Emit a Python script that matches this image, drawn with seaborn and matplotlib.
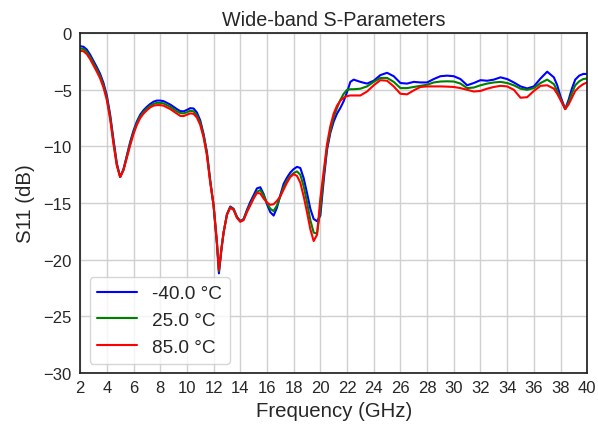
import matplotlib
matplotlib.use("Agg")
import matplotlib.pyplot as plt
import seaborn as sns
import pandas as pd

# Frequency sample points (GHz)
freq_ghz = [
    2.0, 2.25, 2.5, 2.75, 3.0, 3.25, 3.5, 3.75, 4.0, 4.25, 4.5, 4.75,
    5.0, 5.25, 5.5, 5.75, 6.0, 6.25, 6.5, 6.75, 7.0, 7.25, 7.5, 7.75,
    8.0, 8.25, 8.5, 8.75, 9.0, 9.25, 9.5, 9.75, 10.0, 10.25, 10.5, 10.75,
    11.0, 11.25, 11.5, 11.75, 12.0, 12.25,
    12.4, 12.6, 12.75,
    13.0, 13.25, 13.5, 13.75, 14.0, 14.25, 14.5, 14.75, 15.0, 15.25, 15.5, 15.75,
    16.0, 16.25, 16.5, 16.75, 17.0, 17.25, 17.5, 17.75, 18.0, 18.25, 18.5, 18.75,
    19.0, 19.25, 19.5, 19.75, 20.0, 20.25, 20.5, 20.75, 21.0, 21.25, 21.5, 21.75,
    22.0, 22.25, 22.5,
    23.0, 23.5, 24.0, 24.5, 25.0, 25.5, 26.0, 26.5, 27.0, 27.5, 28.0, 28.5,
    29.0, 29.5, 30.0, 30.5, 31.0, 31.5, 32.0, 32.5, 33.0, 33.5, 34.0, 34.5,
    35.0, 35.5, 36.0, 36.5, 37.0, 37.5,
    37.75, 38.0, 38.35, 38.6, 38.85, 39.1, 39.4, 39.7, 40.0,
]

# S11 (dB) at -40 °C
s11_m40 = [
    -1.15, -1.2, -1.45, -1.9, -2.45, -3.0, -3.6, -4.4, -5.5, -7.2, -9.4, -11.5,
    -12.7, -12.0, -10.8, -9.6, -8.6, -7.8, -7.2, -6.8, -6.5, -6.25, -6.05, -5.95,
    -5.95, -6.0, -6.15, -6.3, -6.5, -6.7, -6.88, -6.9, -6.78, -6.62, -6.65, -7.0,
    -7.7, -8.9, -10.5, -13.0, -15.2, -18.6,
    -21.2, -19.0, -17.6,
    -16.0, -15.3, -15.5, -16.2, -16.6, -16.4, -15.6, -14.9, -14.3, -13.7, -13.6, -14.2,
    -15.1, -15.8, -16.1, -15.4, -14.3, -13.3, -12.75, -12.3, -12.0, -11.8, -11.9, -12.8,
    -14.1, -15.5, -16.4, -16.6, -16.1, -13.0, -10.3, -8.8, -7.8, -7.1, -6.6, -6.0,
    -5.2, -4.3, -4.1,
    -4.3, -4.45, -4.2, -3.7, -3.5, -3.8, -4.4, -4.45, -4.3, -4.35, -4.35, -4.05,
    -3.8, -3.75, -3.8, -4.05, -4.6, -4.4, -4.15, -4.2, -4.1, -3.9, -4.05, -4.35,
    -4.7, -4.88, -4.7, -4.0, -3.4, -3.9,
    -4.6, -5.6, -6.7, -5.9, -4.9, -4.1, -3.75, -3.6, -3.6,
]

# S11 (dB) at 25 °C
s11_25 = [
    -1.35, -1.4, -1.65, -2.1, -2.65, -3.2, -3.8, -4.6, -5.7, -7.4, -9.6, -11.6,
    -12.7, -12.05, -10.9, -9.75, -8.75, -7.95, -7.35, -6.95, -6.65, -6.4, -6.25, -6.15,
    -6.15, -6.2, -6.35, -6.5, -6.7, -6.9, -7.05, -7.08, -6.98, -6.85, -6.9, -7.25,
    -7.9, -9.0, -10.6, -13.1, -15.2, -18.5,
    -21.0, -18.9, -17.6,
    -16.0, -15.35, -15.55, -16.25, -16.6, -16.45, -15.7, -15.1, -14.5, -14.0, -13.85, -14.3,
    -15.0, -15.5, -15.7, -15.2, -14.4, -13.6, -13.0, -12.6, -12.35, -12.2, -12.5, -13.5,
    -14.9, -16.5, -17.6, -17.7, -15.6, -12.6, -10.1, -8.6, -7.4, -6.6, -5.9, -5.35,
    -5.0, -4.95, -4.95,
    -4.9, -4.7, -4.3, -3.95, -3.95, -4.3, -4.85, -4.85, -4.75, -4.65, -4.55, -4.35,
    -4.27, -4.25, -4.27, -4.45, -4.85, -4.8, -4.6, -4.45, -4.35, -4.3, -4.4, -4.6,
    -4.9, -5.0, -4.85, -4.4, -4.1, -4.5,
    -5.1, -5.8, -6.7, -6.1, -5.3, -4.6, -4.25, -4.05, -4.0,
]

# S11 (dB) at 85 °C
s11_85 = [
    -1.55, -1.6, -1.85, -2.3, -2.85, -3.4, -4.0, -4.8, -5.9, -7.6, -9.8, -11.7,
    -12.7, -12.1, -11.0, -9.9, -8.9, -8.1, -7.5, -7.1, -6.8, -6.55, -6.4, -6.35,
    -6.35, -6.4, -6.55, -6.7, -6.9, -7.1, -7.3, -7.32, -7.2, -7.08, -7.12, -7.45,
    -8.1, -9.2, -10.8, -13.2, -15.2, -18.4,
    -20.9, -18.9, -17.6,
    -16.05, -15.4, -15.6, -16.3, -16.65, -16.5, -15.8, -15.2, -14.6, -14.1, -14.15, -14.6,
    -14.95, -15.15, -15.1, -14.8, -14.4, -13.8, -13.2, -12.7, -12.45, -12.6, -13.2, -14.4,
    -15.8, -17.3, -18.35, -17.8, -14.6, -12.2, -9.8, -8.2, -7.1, -6.4, -5.95, -5.7,
    -5.55, -5.5, -5.5,
    -5.5, -5.15, -4.6, -4.15, -4.2, -4.7, -5.35, -5.4, -5.05, -4.75, -4.7, -4.7,
    -4.7, -4.72, -4.75, -4.85, -5.0, -5.15, -5.1, -4.9, -4.75, -4.65, -4.7, -5.0,
    -5.7, -5.65, -5.1, -4.65, -4.6, -4.9,
    -5.35, -5.9, -6.7, -6.3, -5.7, -5.1, -4.75, -4.5, -4.35,
]

temps = ["-40.0 °C", "25.0 °C", "85.0 °C"]
colors = ["blue", "green", "red"]
x_ticks = list(range(2, 41, 2))
y_ticks = [0, -5, -10, -15, -20, -25, -30]

frames = []
for label, vals in zip(temps, [s11_m40, s11_25, s11_85]):
    assert len(vals) == len(freq_ghz), (label, len(vals), len(freq_ghz))
    frames.append(pd.DataFrame({"Frequency": freq_ghz, "S11": vals, "Temp": label}))
df = pd.concat(frames, ignore_index=True)

sns.set_theme(style="whitegrid")
plt.rcParams["font.family"] = ["Liberation Sans", "DejaVu Sans"]

fig, ax = plt.subplots(figsize=(5.98, 4.27), dpi=100)
fig.subplots_adjust(left=0.134, right=0.982, top=0.920, bottom=0.124)

sns.lineplot(data=df, x="Frequency", y="S11", hue="Temp", hue_order=temps,
             palette=colors, linewidth=1.5, ax=ax, sort=False)

ax.set_xlim(2, 40)
ax.set_ylim(-30, 0)
ax.set_xticks(x_ticks)
ax.set_yticks(y_ticks)
ax.tick_params(labelsize=12, length=0)
ax.tick_params(axis="x", pad=5)
ax.tick_params(axis="y", pad=6)
ax.set_xlabel("Frequency (GHz)", fontsize=14.7, labelpad=4)
ax.set_ylabel("S11 (dB)", fontsize=14.7, labelpad=6)
ax.set_title("Wide-band S-Parameters", fontsize=14.2, pad=6)
ax.grid(True, color="#d0d0d0", linewidth=1.0)
for s in ax.spines.values():
    s.set_color("#222222")
    s.set_linewidth(1.25)

leg = ax.legend(loc="lower left", fontsize=13.7, handlelength=2.1,
                frameon=True, title=None)
leg.get_frame().set_edgecolor("#cccccc")

fig.savefig("out.png", dpi=100)
